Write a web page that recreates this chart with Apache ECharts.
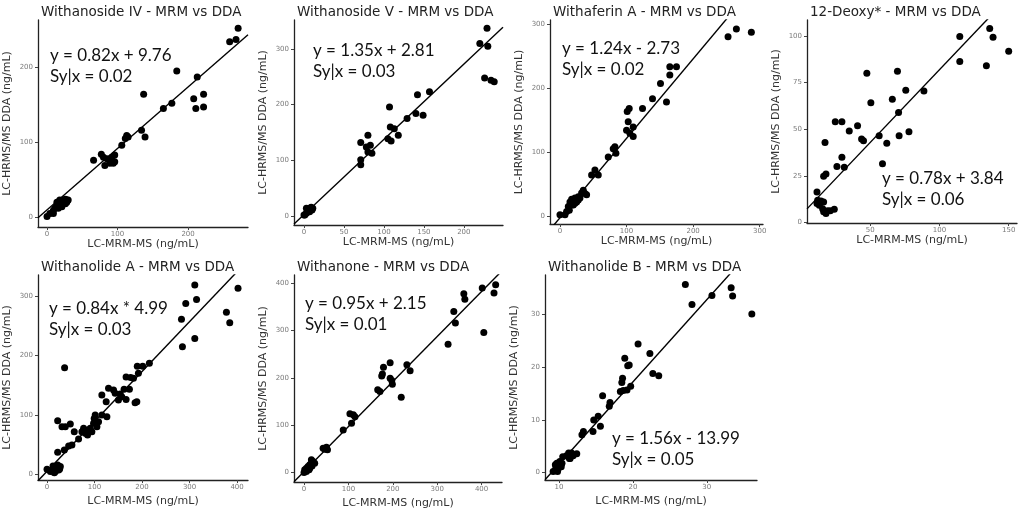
<!DOCTYPE html>
<html>
<head>
<meta charset="utf-8">
<script src="https://cdn.jsdelivr.net/npm/echarts@6/dist/echarts.min.js"></script>
<style>
  html, body { margin: 0; padding: 0; background: #fff; }
  #main { width: 1024px; height: 512px; }
</style>
</head>
<body>
<div id="main"></div>
<script>
// values
const titles = ['Withanoside IV - MRM vs DDA', 'Withanoside V - MRM vs DDA', 'Withaferin A - MRM vs DDA',
  '12-Deoxy* - MRM vs DDA', 'Withanolide A - MRM vs DDA', 'Withanone - MRM vs DDA', 'Withanolide B - MRM vs DDA'];
const equations = ['y = 0.82x + 9.76', 'y = 1.35x + 2.81', 'y = 1.24x - 2.73', 'y = 0.78x + 3.84',
  'y = 0.84x * 4.99', 'y = 0.95x + 2.15', 'y = 1.56x - 13.99'];
const syxLabels = ['Sy|x = 0.02', 'Sy|x = 0.03', 'Sy|x = 0.02', 'Sy|x = 0.06', 'Sy|x = 0.03', 'Sy|x = 0.01', 'Sy|x = 0.05'];
const slopes = [0.82, 1.35, 1.24, 0.78, 0.84, 0.95, 1.56];
const intercepts = [9.76, 2.81, -2.73, 3.84, 4.99, 2.15, -13.99];
const xTicks = [[0, 100, 200], [0, 50, 100, 150, 200], [0, 100, 200, 300], [50, 100, 150],
  [0, 100, 200, 300, 400], [0, 100, 200, 300, 400], [10, 20, 30]];
const yTicks = [[0, 100, 200], [0, 100, 200, 300], [0, 100, 200, 300], [0, 25, 50, 75, 100],
  [0, 100, 200, 300], [0, 100, 200, 300, 400], [0, 10, 20, 30]];
const xName = 'LC-MRM-MS (ng/mL)';
const yName = 'LC-HRMS/MS DDA (ng/mL)';

const withanosideIV = [[0,1],[4,5],[9,9],[11,12],[14,14],[16,16],[18,18],[21,20],[23,23],[26,24],[28,23],
  [16,12],[21,14],[23,18],[28,20],[14,20],[18,23],[9,5],[26,18],[30,23],
  [66,76],[77,84],[80,80],[82,69],[85,78],[89,76],[92,80],[94,72],[96,74],[96,83],[89,72],
  [106,96],[111,105],[113,109],[115,107],[134,116],[137,164],[139,107],
  [165,145],[177,152],[184,195],[208,158],[211,145],[213,187],[222,164],[222,147],
  [259,234],[268,237],[271,252]];
const withanosideV = [[0,2],[3,5],[5,11],[7,14],[9,16],[11,14],[4,8],[7,8],[3,14],[10,11],[1,2],[6,12],
  [71,92],[71,101],[71,132],[80,145],[78,124],[80,115],[83,127],[85,113],
  [105,139],[107,196],[108,160],[109,135],[113,157],[118,145],
  [129,175],[140,184],[142,218],[149,181],[157,223],
  [220,310],[226,248],[229,337],[230,305],[234,244],[238,241]];
const withaferinA = [[0,2],[7.5,2],[10,7],[12.5,15],[15,22],[17.5,26],[20,25],[22.5,28],[25,22],[27.5,25],
  [30,28],[14,9],[17.5,17],[22.5,20],[32.5,36],[35,40],[37.5,35],[40,33],[27.5,30],[20,17],
  [47.5,64],[52.5,72],[57.5,64],[72.5,92],[80,105],[82.5,108],[84,98],
  [100,134],[101,163],[104,168],[102.5,147],[105,129],[110,139],[110,124],
  [124,168],[139,183],[151,207],[160,178],[165,220],[165,233],[175,233],
  [252.5,280],[265,292],[287.5,287]];
const deoxy12 = [[11.6,16.3],[12.1,11.9],[11.6,10.1],[13.3,9.2],[14.5,11.5],[16.4,11],[15.7,7.4],[17.6,5.7],
  [19.3,6.2],[16.4,5.7],[18.1,4.8],[21.2,6.2],[24.1,7.1],
  [16.4,24.8],[18.1,26],[17.4,42.9],[24.8,53.9],[26,30],[29.6,53.9],[29.6,34.9],[31.3,29.6],
  [34.9,49],[40.9,51.8],[43.8,44.7],[45.2,43.8],[47.6,80],[50.5,64.2],
  [56.5,46.5],[58.9,31.4],[62,42.4],[66,66],[69.7,81],[70.5,58.9],[70.9,46.5],[75.7,70.9],[78,48.6],[88.8,70.4],
  [114.7,99.6],[114.7,86.3],[133.9,84],[136.3,104],[138.7,99.3],[150,91.7]];
const withanolideA = [[0,8.4],[7,4.5],[10.5,7.3],[14,10],[17.5,13],[21,10],[24.5,7.3],[28,13],[17.5,4.5],
  [12.6,14],[22.4,15.7],[15.4,2.8],[26.6,9],
  [22.4,37],[22.4,90],[31.5,80],[38.5,80],[36.4,41],[49,84.7],[45.5,47.7],[52.4,49.4],[57.3,71.8],[66.4,59.5],
  [37,179.5],
  [73.4,71.8],[77,77.4],[80.4,69],[84,71.8],[87.4,74.6],[91,77.4],[94.4,71.8],[85.3,66.2],[98,85.8],
  [99.3,94],[101.4,99.8],[105,80.2],[108.4,88.6],
  [115.4,99.8],[115.4,133.5],[126,97],[124.5,122],[129.4,144.7],[140,142],[143.4,136.3],[150.3,125],
  [154,135],[157.3,130.7],[162.2,143],[166.4,164],[166.4,126],[173.4,143],[176,163],[182,161.5],
  [185.3,120.6],[189,122],[190,182],[192.3,170],[201.4,182],[215.4,186.8],
  [283,260.8],[285,214.8],[292,287.7],[311,318.6],[311,228.8],[314.7,294.4],[377.6,272.6],[384.6,255.2],[402,313]];
const withanone = [[0,0],[1.5,5.6],[5.3,9.2],[9,12.7],[12.8,16.2],[16.6,19.7],[20.4,23.2],[12.8,9.2],[5.3,2],
  [18,14],[24,19.7],[11.3,5.6],[16.6,26.8],
  [43,51.4],[46.8,49.3],[50.6,53.5],[52.8,47.9],
  [88.3,90],[103.4,124],[107,104],[111,121.8],[114.7,118],
  [166,174.6],[171,171],[175,204],[179,222.5],[176.6,208],[194,232],[194,199],[197.7,194.4],[199,186.6],
  [219,159],[231.7,227.5],[239,214.8],
  [324.5,271],[337.4,340],[341,315.5],[360,377.5],[362.3,366],[401.5,389.4],[405,295.8],[428,378.9],[431.7,396.5]];
const withanolideB = [[9.2,0.2],[9.5,0.5],[9.6,1.1],[9.7,1.8],[9.9,0.8],[10,1.5],[10.1,2.1],[9.8,0.2],[9.5,1.5],
  [10.3,1.1],[10.4,1.8],
  [10.5,3],[11,3.2],[11.3,3.7],[11.5,2.7],[11.7,3.7],[11.4,2.7],[12.4,3.6],[11.9,3.2],
  [13.1,7.2],[13.3,7.8],[14.6,7.8],[14.7,10],[15.3,10.7],[15.6,8.8],[15.9,14.6],[16.8,12.6],[16.9,13.3],
  [18.3,15.4],[18.5,17.1],[18.6,17.9],[18.7,15.6],[18.9,21.7],[19.2,15.7],[19.3,20.3],[19.5,20.4],[19.7,16.4],
  [20.7,24.4],[22.3,22.6],[22.7,18.8],[23.5,18.4],
  [27.1,35.7],[28,31.9],[30.7,33.6],[33.3,35.1],[33.5,33.5],[36.1,30.1]];
const panelData = [withanosideIV, withanosideV, withaferinA, deoxy12, withanolideA, withanone, withanolideB];

// axis extents (ggplot expansion) and panel boxes in pixels: left, top, right, bottom
const xRange = [[-12.8, 285], [-12.5, 249], [-15, 305], [4.4, 156], [-19, 423], [-22.6, 446], [8.1, 36.8]];
const yRange = [[-13, 263], [-16, 352], [-12.5, 306], [-0.3, 108.5], [-9.6, 335.5], [-20, 417], [-1.4, 37.5]];
const boxes = [[38, 20, 248, 227], [294, 20, 503, 225], [550, 20, 763, 224], [807, 20, 1017, 223],
  [38, 275, 248, 480], [294, 275, 502, 482], [545, 275, 757, 480]];
const eqPos = [[50, 45], [313, 40], [562, 38.5], [882, 168.5], [49, 298.5], [305, 293.5], [612, 428]];

const chart = echarts.init(document.getElementById('main'));

let grid = [], xAxis = [], yAxis = [], series = [], title = [], graphic = [];

panelData.forEach((pts, i) => {
  let b = boxes[i];
  let bottomRow = i >= 4;
  grid.push({ left: b[0], top: b[1], width: b[2] - b[0], height: b[3] - b[1] });

  let axisCommon = {
    gridIndex: i,
    type: 'value',
    splitLine: { show: false },
    axisLine: { show: true, onZero: false, lineStyle: { color: '#222', width: 1.3 } },
    axisTick: { show: true, length: 3, lineStyle: { color: '#444' } },
    axisLabel: { color: '#7a7a7a', fontSize: 7, fontFamily: 'DejaVu Sans' },
    nameLocation: 'middle',
    nameTextStyle: { color: '#333', fontSize: 11, fontFamily: 'DejaVu Sans' }
  };

  xAxis.push(Object.assign({}, axisCommon, {
    min: xRange[i][0], max: xRange[i][1],
    name: xName, nameGap: bottomRow ? 16 : 12,
    axisTick: Object.assign({}, axisCommon.axisTick, { customValues: xTicks[i] }),
    axisLabel: Object.assign({}, axisCommon.axisLabel, { customValues: xTicks[i], margin: 4 })
  }));
  yAxis.push(Object.assign({}, axisCommon, {
    min: yRange[i][0], max: yRange[i][1],
    name: yName, nameGap: 25,
    axisTick: Object.assign({}, axisCommon.axisTick, { customValues: yTicks[i] }),
    axisLabel: Object.assign({}, axisCommon.axisLabel, { customValues: yTicks[i], margin: 5 })
  }));

  series.push({
    type: 'scatter',
    xAxisIndex: i, yAxisIndex: i,
    data: pts,
    symbolSize: 7,
    itemStyle: { color: '#000', opacity: 1 },
    silent: true
  });

  // fitted line from the printed slope / intercept
  let x0 = xRange[i][0], x1 = xRange[i][1];
  series.push({
    type: 'line',
    xAxisIndex: i, yAxisIndex: i,
    data: [[x0, slopes[i] * x0 + intercepts[i]], [x1, slopes[i] * x1 + intercepts[i]]],
    symbol: 'none',
    clip: true,
    lineStyle: { color: '#000', width: 1.4 },
    silent: true
  });

  title.push({
    text: titles[i],
    left: b[0] - 2,
    top: b[1] - 20,
    textStyle: { color: '#222', fontSize: 13.5, fontWeight: 'normal', fontFamily: 'DejaVu Sans' }
  });

  graphic.push({
    type: 'text',
    left: eqPos[i][0],
    top: eqPos[i][1],
    style: {
      text: equations[i] + '\n' + syxLabels[i],
      fill: '#111',
      font: '17px Lato',
      lineHeight: 21
    }
  });
});

chart.setOption({
  animation: false,
  backgroundColor: '#fff',
  title: title,
  grid: grid,
  xAxis: xAxis,
  yAxis: yAxis,
  series: series,
  graphic: graphic
});
</script>
</body>
</html>
